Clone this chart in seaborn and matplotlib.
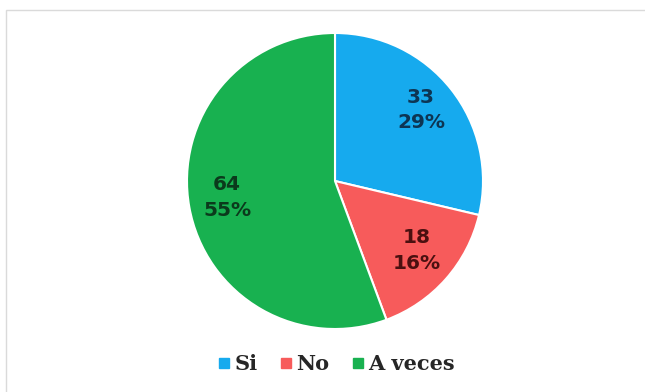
import matplotlib
matplotlib.use("Agg")
import matplotlib.pyplot as plt
import seaborn as sns
import numpy as np
from matplotlib.patches import Rectangle
from matplotlib.lines import Line2D

categories = ["Si", "No", "A veces"]
counts = [33, 18, 64]
pct_labels = ["29%", "16%", "55%"]
colors = ["#16AAEE", "#F75B5B", "#18B150"]
text_colors = ["#0D3553", "#4A1010", "#0B3A1C"]

sns.set_theme(style="white")
plt.rcParams["font.family"] = ["DejaVu Sans"]

W, H = 645, 392
fig = plt.figure(figsize=(W / 100, H / 100), dpi=100)
fig.patch.set_facecolor("white")

# light frame around the chart area
fig.patches.append(Rectangle((6 / W, -0.05), 1.1, (H - 10) / H + 0.05,
                             transform=fig.transFigure, fill=False,
                             edgecolor="#DADADA", linewidth=1.0))

cx, cy, r = 335, 181, 148
ax = fig.add_axes([(cx - r) / W, (H - cy - r) / H, 2 * r / W, 2 * r / H])
wedges, _ = ax.pie(counts, colors=colors, startangle=90, counterclock=False,
                   radius=1.0, wedgeprops=dict(edgecolor="white", linewidth=1.5))
ax.set_xlim(-1, 1)
ax.set_ylim(-1, 1)
ax.set_aspect("equal")
ax.axis("off")

for w, n, p, tc in zip(wedges, counts, pct_labels, text_colors):
    ang = np.deg2rad((w.theta1 + w.theta2) / 2)
    d = 0.74
    ax.text(d * np.cos(ang), d * np.sin(ang) + 0.02, f"{n}\n{p}", ha="center", va="center",
            fontsize=14.5, fontweight="bold", color=tc, linespacing=1.45)

handles = [Line2D([0], [0], marker="s", linestyle="none", markersize=6.5,
                  markerfacecolor=c, markeredgecolor=c) for c in colors]
fig.legend(handles, categories, loc="center", bbox_to_anchor=(336 / W, 1 - 364 / H),
           ncol=3, frameon=False, handletextpad=0.15, columnspacing=1.0,
           prop={"family": "DejaVu Serif", "size": 15, "weight": "bold"}, handlelength=0.7)

fig.savefig("out.png", dpi=100, facecolor="white")
